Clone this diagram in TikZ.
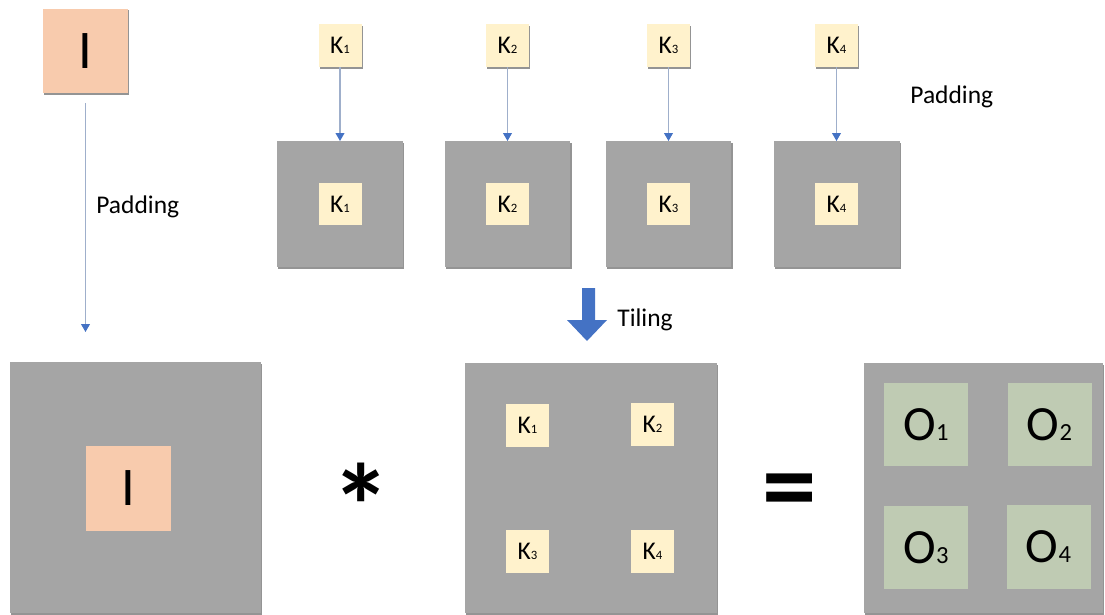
\documentclass[tikz,border=0pt]{standalone}
\usepackage{fontspec}
\setmainfont{Carlito}
\usetikzlibrary{positioning, arrows.meta, shadows}

\definecolor{padgray}{HTML}{A5A5A5}
\definecolor{inputpink}{HTML}{F8CBAD}
\definecolor{kerncream}{HTML}{FFF2CC}
\definecolor{outgreen}{HTML}{BFCBB3}
\definecolor{arrowblue}{HTML}{4472C4}
\definecolor{linegray}{HTML}{9FAFCB}

% small index digit sitting on the baseline
\newcommand{\idx}[1]{\scalebox{0.5}{#1}}

\begin{document}
\begin{tikzpicture}[
        x=0.02cm, y=-0.02cm,
        node distance=1.48cm,
        box/.style={inner sep=0pt, outer sep=0pt},
        boxshadow/.style={drop shadow={shadow xshift=0.6pt, shadow yshift=-0.9pt, fill=black!70, opacity=0.6}},
        inbox/.style={box, fill=inputpink, minimum size=1.7cm, font=\fontsize{31}{31}\selectfont},
        kern/.style={box, fill=kerncream, minimum size=0.86cm, font=\fontsize{14.5}{15}\selectfont},
        outbox/.style={box, fill=outgreen, minimum size=1.68cm, font=\fontsize{28}{28}\selectfont},
        padded/.style={box, fill=padgray, minimum size=2.52cm},
        note/.style={font=\fontsize{14.5}{15}\selectfont, inner sep=0pt, anchor=west},
        arrow/.style={draw=linegray, line width=0.6pt, -{Triangle[length=4.5pt, width=5pt, color=arrowblue]}},
    ]
    \useasboundingbox (0,0) rectangle (1105,615);

    % input and its padding
    \node[inbox, boxshadow] (itop) at (85.5,51) {I};
    \coordinate (padend) at (85.5,332);
    \draw[arrow, shorten <=0.2cm] (itop) -- (padend);
    \node[note] (padl) at (96,207) {Padding};

    % kernels, each padded on its own
    \foreach \i/\x in {1/340, 2/507.5, 3/668.5, 4/836.5} {
        \node[padded, boxshadow] (g\i) at (\x,204) {};
        \node[kern] (gk\i) at (g\i) {K\idx{\i}};
        \node[kern, boxshadow, above=of g\i] (k\i) {K\idx{\i}};
        \draw[arrow] (k\i) -- (g\i);
    }
    \node[note] (padr) at (910,97) {Padding};

    % tiling step
    \fill[arrowblue] (582,288) -- (595,288) -- (595,320) -- (607,320) -- (587,341)
        -- (567,320) -- (582,320) -- cycle;
    \node[note] (tiling) at (617,320) {Tiling};

    % padded input
    \node[padded, boxshadow, minimum size=5.02cm] (bigin) at (135.5,487.5) {};
    \node[inbox] (iin) at (128.5,488.5) {I};

    \node[font=\fontsize{68}{68}\selectfont\bfseries] (conv) at (361,506) {*};

    % tiled kernel
    \node[padded, boxshadow, minimum width=5.04cm, minimum height=5cm] (tiled) at (591,488) {};
    \node[kern] (t1) at (527.5,425) {K\idx{1}};
    \node[kern] (t2) at (652.5,424) {K\idx{2}};
    \node[kern] (t3) at (527.5,551.5) {K\idx{3}};
    \node[kern] (t4) at (652.5,551) {K\idx{4}};

    \node[font=\fontsize{62}{62}\selectfont\bfseries] (eq) at (789.5,498) {=};

    % output
    \node[padded, boxshadow, minimum width=4.78cm, minimum height=5cm] (result) at (983.5,488) {};
    \node[outbox] (o1) at (926,424.5) {O\idx{1}};
    \node[outbox] (o2) at (1049.5,424.5) {O\idx{2}};
    \node[outbox] (o3) at (926,547.5) {O\idx{3}};
    \node[outbox] (o4) at (1048.5,547) {O\idx{4}};
\end{tikzpicture}
\end{document}
